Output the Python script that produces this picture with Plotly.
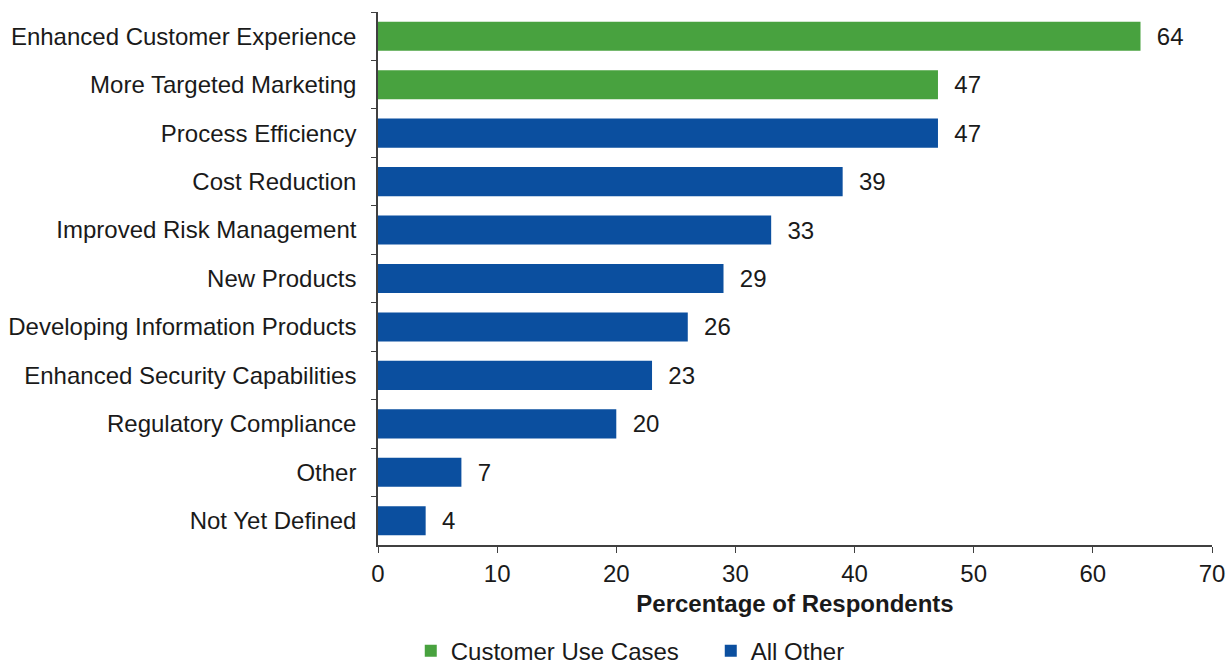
import plotly.graph_objects as go

categories = ["Enhanced Customer Experience", "More Targeted Marketing", "Process Efficiency",
              "Cost Reduction", "Improved Risk Management", "New Products",
              "Developing Information Products", "Enhanced Security Capabilities",
              "Regulatory Compliance", "Other", "Not Yet Defined"]
values = [64, 47, 47, 39, 33, 29, 26, 23, 20, 7, 4]
customer_cats = categories[:2]
customer_vals = values[:2]
other_cats = categories[2:]
other_vals = values[2:]

GREEN = "#48a23f"
BLUE = "#0b4f9f"
FONT = "Liberation Sans, Arial, sans-serif"
TXT = "#1a1a1a"

fig = go.Figure()
fig.add_trace(go.Bar(y=customer_cats, x=customer_vals, orientation="h", name="Customer Use Cases",
                     marker=dict(color=GREEN, line=dict(width=0)),
                     text=[f"  {v}" for v in customer_vals], textposition="outside",
                     constraintext="none",
                     textfont=dict(size=24, color=TXT), cliponaxis=False))
fig.add_trace(go.Bar(y=other_cats, x=other_vals, orientation="h", name="All Other",
                     marker=dict(color=BLUE, line=dict(width=0)),
                     text=[f"  {v}" for v in other_vals], textposition="outside",
                     constraintext="none",
                     textfont=dict(size=24, color=TXT), cliponaxis=False))

fig.update_layout(
    width=1227, height=664,
    margin=dict(l=378, r=15, t=12, b=119, autoexpand=False),
    paper_bgcolor="white", plot_bgcolor="white",
    barmode="overlay", bargap=0.4,
    font=dict(family=FONT, size=24, color=TXT),
    showlegend=True,
    legend=dict(orientation="h", x=0.399, xanchor="center", y=-0.199, yanchor="middle",
                font=dict(size=24), traceorder="normal", itemwidth=30,
                entrywidth=255),
    xaxis=dict(range=[0, 70], dtick=10, showgrid=False, zeroline=False,
               showline=True, linecolor="#404040", linewidth=1.5,
               ticks="outside", ticklen=6, tickcolor="#404040",
               tickfont=dict(size=24),
               title=dict(text="<b>Percentage of Respondents</b>", font=dict(size=24), standoff=10)),
    yaxis=dict(categoryorder="array", categoryarray=categories, autorange="reversed",
               showgrid=False, showline=True, linecolor="#404040", linewidth=1.5,
               ticks="outside", ticklen=5, tickcolor="#404040", tickson="boundaries",
               tickfont=dict(size=24), ticklabelstandoff=15),
)

fig.write_html("out.html", config={"displayModeBar": False},
               post_script="document.body.style.margin='0';")
